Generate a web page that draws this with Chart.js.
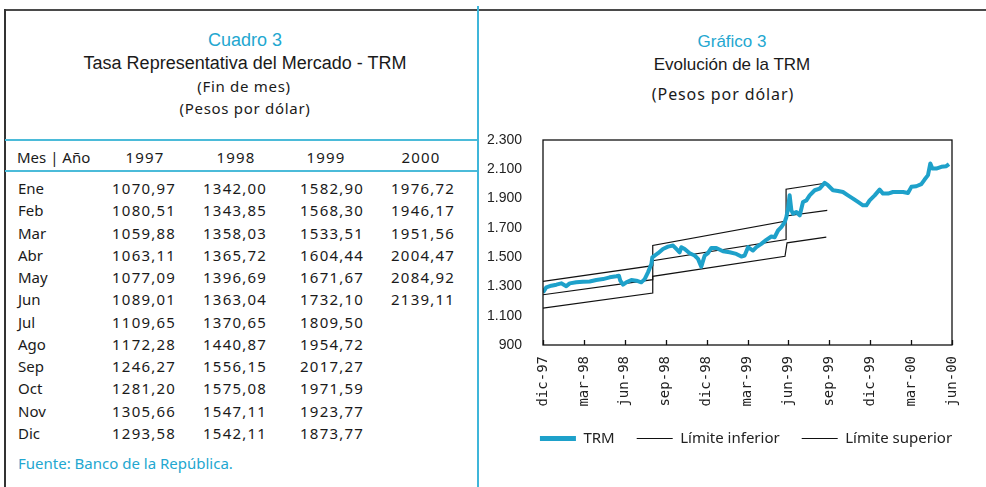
<!DOCTYPE html>
<html>
<head>
<meta charset="utf-8">
<script src="https://cdn.jsdelivr.net/npm/chart.js@4.4.0/dist/chart.umd.min.js"></script>
<style>
body { margin: 0; background: #fff; }
#page { position: relative; width: 986px; height: 487px; overflow: hidden; font-family: "Noto Sans", sans-serif; color: #1a1a1a; }
.topline { position: absolute; left: 5px; top: 9px; width: 981px; height: 2px; background: #4a4a4a; }
.leftline { position: absolute; left: 4px; top: 9px; width: 2px; height: 478px; background: #333; }
.divider { position: absolute; left: 477px; top: 6px; width: 2px; height: 481px; background: #3fb6da; }
.hline { position: absolute; left: 5px; width: 472px; height: 2px; background: #4bbbd9; }
.c { position: absolute; white-space: nowrap; transform: translate(-50%, -50%); line-height: 1; }
.l { position: absolute; white-space: nowrap; transform: translateY(-50%); line-height: 1; }
.arial { font-family: "Liberation Sans", Arial, sans-serif; }
.cyan { color: #23a7d0; }
.num { position: absolute; width: 90px; text-align: right; transform: translateY(-50%); line-height: 1; font-size: 15px; letter-spacing: 1.2px; }
#chartBox { position: absolute; left: 480px; top: 118px; width: 506px; height: 369px; }
</style>
</head>
<body>
<div id="page">
  <div class="topline"></div>
  <div class="leftline"></div>
  <div class="divider"></div>
  <div class="hline" style="top:139px"></div>
  <div class="hline" style="top:170px"></div>

  <div class="c arial cyan" style="left:245px; top:40px; font-size:18px">Cuadro 3</div>
  <div class="c arial" style="left:245px; top:63px; font-size:18px">Tasa Representativa del Mercado - TRM</div>
  <div class="c" style="left:244px; top:86px; font-size:15px; letter-spacing:0.7px">(Fin de mes)</div>
  <div class="c" style="left:245px; top:108px; font-size:15px; letter-spacing:0.7px">(Pesos por dólar)</div>

  <div class="c arial cyan" style="left:732px; top:41px; font-size:17px">Gráfico 3</div>
  <div class="c arial" style="left:732px; top:64px; font-size:17px">Evolución de la TRM</div>
  <div class="c" style="left:723px; top:94px; font-size:16px; letter-spacing:0.9px">(Pesos por dólar)</div>

  <div id="table"></div>
  <div class="l cyan" style="left:18px; top:463px; font-size:15px">Fuente: Banco de la República.</div>

  <div id="chartBox"><canvas id="trmChart" width="506" height="369"></canvas></div>
</div>

<script>
// Cuadro 3: TRM fin de mes
const months = ["Ene", "Feb", "Mar", "Abr", "May", "Jun", "Jul", "Ago", "Sep", "Oct", "Nov", "Dic"];
const years = ["1997", "1998", "1999", "2000"];
const trm1997 = [1070.97, 1080.51, 1059.88, 1063.11, 1077.09, 1089.01, 1109.65, 1172.28, 1246.27, 1281.20, 1305.66, 1293.58];
const trm1998 = [1342.00, 1343.85, 1358.03, 1365.72, 1396.69, 1363.04, 1370.65, 1440.87, 1556.15, 1575.08, 1547.11, 1542.11];
const trm1999 = [1582.90, 1568.30, 1533.51, 1604.44, 1671.67, 1732.10, 1809.50, 1954.72, 2017.27, 1971.59, 1923.77, 1873.77];
const trm2000 = [1976.72, 1946.17, 1951.56, 2004.47, 2084.92, 2139.11];

// Grafico 3: x = meses desde dic-97
const xTickLabels = ["dic-97", "mar-98", "jun-98", "sep-98", "dic-98", "mar-99", "jun-99", "sep-99", "dic-99", "mar-00", "jun-00"];
const trmX = [0, 0.24, 0.61, 0.98, 1.34, 1.71, 1.96, 2.44, 2.93, 3.42, 3.91, 4.40, 4.89, 5.38, 5.57, 5.67, 5.87, 6.11, 6.48, 6.85,
  7.21, 7.46, 7.70, 7.95, 8.02, 8.19, 8.44, 8.80, 9.17, 9.54, 9.78, 10.02, 10.15, 10.39, 10.76, 11.12, 11.37, 11.61, 11.86, 12.10,
  12.35, 12.71, 13.20, 13.69, 14.18, 14.55, 14.79, 15.04, 15.40, 15.65, 16.01, 16.38, 16.75, 16.99, 17.24, 17.48, 17.73, 17.85, 17.97, 18.09,
  18.22, 18.34, 18.58, 18.83, 19.07, 19.32, 19.56, 19.93, 20.29, 20.66, 20.90, 21.27, 21.64, 22.00, 22.37, 22.74, 23.10, 23.47, 23.72, 23.96,
  24.33, 24.69, 24.94, 25.31, 25.67, 26.04, 26.41, 26.77, 27.02, 27.38, 27.75, 27.99, 28.24, 28.41, 28.56, 28.85, 29.22, 29.58, 29.78];
const trmY = [1259, 1293, 1305, 1312, 1321, 1302, 1321, 1328, 1332, 1334, 1344, 1350, 1362, 1369, 1373, 1339, 1312, 1328, 1344, 1339,
  1328, 1350, 1396, 1453, 1499, 1511, 1527, 1556, 1572, 1579, 1556, 1533, 1568, 1556, 1527, 1511, 1488, 1435, 1511, 1527,
  1563, 1563, 1540, 1533, 1522, 1504, 1511, 1568, 1545, 1568, 1591, 1618, 1641, 1636, 1682, 1705, 1739, 1774, 1831, 1922,
  1819, 1797, 1808, 1785, 1877, 1888, 1922, 1957, 1968, 2007, 1991, 1957, 1952, 1945, 1922, 1900, 1877, 1854, 1854, 1888,
  1922, 1961, 1934, 1934, 1945, 1945, 1945, 1938, 1980, 1984, 1998, 2030, 2060, 2140, 2105, 2105, 2117, 2121, 2135];
const infX = [0, 8.05, 8.05, 17.75, 17.9, 20.78];
const infY = [1152, 1255, 1369, 1506, 1598, 1637];
const supX = [0, 8.05, 8.05, 17.83, 17.83, 20.57];
const supY = [1334, 1442, 1580, 1746, 1964, 2003];
const centX = [0, 8.05, 8.05, 17.83, 17.83, 20.85];
const centY = [1243, 1346, 1476, 1620, 1781, 1820];

const cyan = "#1ea1ca";

function fmt(v) {
    return v.toFixed(2).replace(".", ",");
}

function buildTable() {
    const rightEdges = [176, 267, 364, 455];
    const yearCenters = [145, 236, 326, 421];
    const cols = [trm1997, trm1998, trm1999, trm2000];
    let html = '<div class="l" style="left:17px; top:157px; font-size:15px">Mes | Año</div>';
    years.forEach((y, i) => {
        html += `<div class="c" style="left:${yearCenters[i]}px; top:157px; font-size:15px; letter-spacing:1.2px">${y}</div>`;
    });
    months.forEach((m, r) => {
        const top = 188 + r * 22.27;
        html += `<div class="l" style="left:18px; top:${top}px; font-size:15px">${m}</div>`;
        cols.forEach((col, i) => {
            if (col[r] === undefined) return;
            html += `<div class="num" style="left:${rightEdges[i] - 90}px; top:${top}px">${fmt(col[r])}</div>`;
        });
    });
    document.getElementById("table").innerHTML = html;
}

function pts(xs, ys) {
    return xs.map((x, i) => ({x: x, y: ys[i]}));
}

const framePlugin = {
    id: "frame",
    afterLayout(chart) {
        chart.legend.left += 30;
        chart.legend.right += 30;
    },
    afterDatasetsDraw(chart) {
        const {ctx, chartArea: a} = chart;
        const x = chart.scales.x;
        ctx.save();
        ctx.strokeStyle = "#111";
        ctx.lineWidth = 1.3;
        ctx.strokeRect(a.left, a.top, a.right - a.left, a.bottom - a.top);
        ctx.beginPath();
        x.ticks.forEach(t => {
            const px = Math.round(x.getPixelForValue(t.value)) + 0.5;
            ctx.moveTo(px, a.bottom);
            ctx.lineTo(px, a.bottom - 5);
        });
        ctx.stroke();
        ctx.restore();
    }
};

function drawChart() {
    const ctx = document.getElementById("trmChart").getContext("2d");
    new Chart(ctx, {
        type: "scatter",
        data: {
            datasets: [
                {label: "TRM", data: pts(trmX, trmY), showLine: true, borderColor: cyan, backgroundColor: cyan, borderWidth: 4, pointRadius: 0, borderJoinStyle: "round"},
                {label: "Límite inferior", data: pts(infX, infY), showLine: true, borderColor: "#111", backgroundColor: "#111", borderWidth: 1.2, pointRadius: 0},
                {label: "Límite superior", data: pts(supX, supY), showLine: true, borderColor: "#111", backgroundColor: "#111", borderWidth: 1.2, pointRadius: 0},
                {label: "central", data: pts(centX, centY), showLine: true, borderColor: "#111", backgroundColor: "#111", borderWidth: 1.2, pointRadius: 0}
            ]
        },
        options: {
            responsive: false,
            animation: false,
            devicePixelRatio: 1,
            layout: {padding: {left: 0, right: 34, top: 22, bottom: 31}},
            scales: {
                x: {
                    type: "linear",
                    min: 0,
                    max: 30,
                    grid: {display: false},
                    border: {display: false},
                    afterFit: s => { s.height = 64; },
                    afterBuildTicks: s => { s.ticks = xTickLabels.map((l, i) => ({value: i * 3})); },
                    ticks: {
                        autoSkip: false,
                        minRotation: 90,
                        maxRotation: 90,
                        padding: 3,
                        color: "#222",
                        font: {family: "DejaVu Sans Mono", size: 14},
                        callback: v => xTickLabels[Math.round(v / 3)]
                    }
                },
                y: {
                    min: 900,
                    max: 2300,
                    grid: {display: false},
                    border: {display: false},
                    afterFit: s => { s.width = 63; },
                    ticks: {
                        stepSize: 200,
                        padding: 13,
                        color: "#222",
                        font: {family: "Liberation Sans", size: 14},
                        callback: v => v >= 1000 ? Math.floor(v / 1000) + "." + String(v % 1000).padStart(3, "0") : String(v)
                    }
                }
            },
            plugins: {
                tooltip: {enabled: false},
                legend: {
                    position: "bottom",
                    labels: {
                        usePointStyle: true,
                        pointStyle: "line",
                        pointStyleWidth: 36,
                        boxHeight: 10,
                        padding: 22,
                        color: "#222",
                        font: {family: "Noto Sans", size: 15},
                        generateLabels: chart => {
                            const items = Chart.defaults.plugins.legend.labels.generateLabels(chart)
                                .filter(it => it.datasetIndex < 3);
                            items.forEach(it => { if (it.datasetIndex === 0) it.lineWidth = 5; });
                            return items;
                        }
                    }
                }
            }
        },
        plugins: [framePlugin]
    });
}

window.onload = function() {
    buildTable();
    drawChart();
};
</script>
</body>
</html>
